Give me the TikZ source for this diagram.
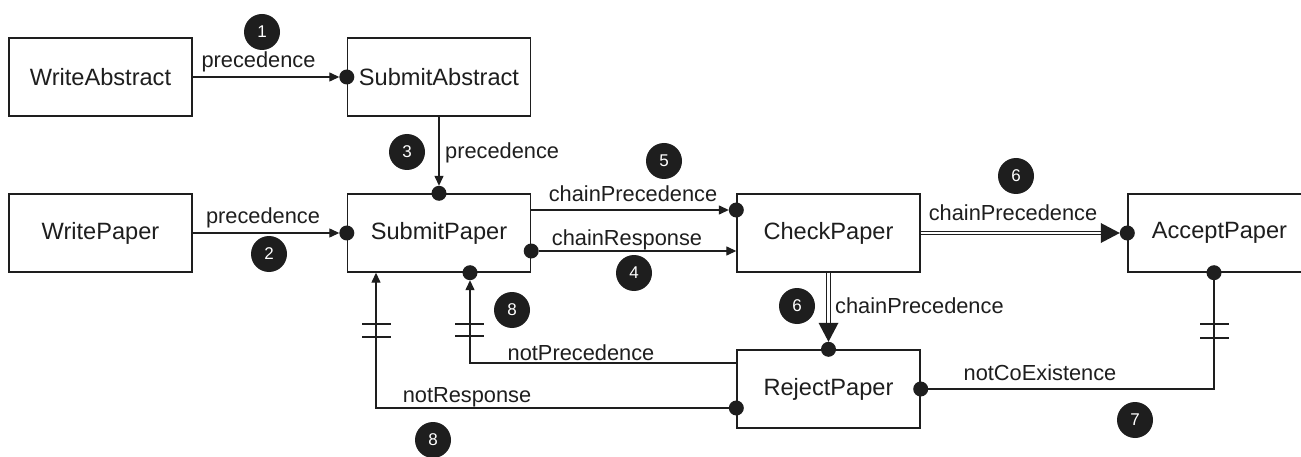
\documentclass[tikz,border=0pt]{standalone}
\usepackage{fontspec}
\setmainfont{Liberation Sans}
\usetikzlibrary{arrows.meta,calc}
\definecolor{ink}{HTML}{1E1E1E}
\begin{document}
\begin{tikzpicture}[x=1pt,y=-1pt,
  box/.style={draw=ink,line width=1.4pt,minimum width=183pt,minimum height=78pt,inner sep=0pt,font=\fontsize{23.6}{28}\selectfont,text=ink},
  lbl/.style={inner sep=0pt,font=\fontsize{21.8}{26}\selectfont,text=ink},
  badge/.style={circle,fill=ink,minimum size=36pt,inner sep=0pt,text=white,font=\fontsize{17}{20}\selectfont},
  edge/.style={draw=ink,line width=1.3pt},
  arr/.style={edge,-{Triangle[length=10pt,width=9pt]}},
  dbl/.style={draw=ink,double=white,double distance=2.3pt,line width=1.2pt},
  bar/.style={draw=ink,line width=1.1pt}]
\clip (0,0) rectangle (1301,457);
\fill[white] (0,0) rectangle (1301,457);

% boxes
\node[box] (wa) at (100.5,77) {WriteAbstract};
\node[box] (sa) at (439,77) {SubmitAbstract};
\node[box] (wp) at (100.5,233) {WritePaper};
\node[box] (sp) at (439,233) {SubmitPaper};
\node[box] (cp) at (828.5,233) {CheckPaper};
\node[box] (ap) at (1219.5,233) {AcceptPaper};
\node[box] (rp) at (828.5,389) {RejectPaper};

% precedence WriteAbstract -> SubmitAbstract
\draw[arr] (wa.east) -- ([xshift=-7.5pt]sa.west);
\fill[ink] (sa.west) circle (7.5pt);
% precedence SubmitAbstract -> SubmitPaper
\draw[arr] (sa.south) -- ([yshift=7.5pt]sp.north);
\fill[ink] (sp.north) circle (7.5pt);
% precedence WritePaper -> SubmitPaper
\draw[arr] (wp.east) -- ([xshift=-7.5pt]sp.west);
\fill[ink] (sp.west) circle (7.5pt);
% chainPrecedence SubmitPaper -> CheckPaper
\draw[arr] ([yshift=23pt]sp.east) -- ([xshift=-7.5pt,yshift=23pt]cp.west);
\fill[ink] ([yshift=23pt]cp.west) circle (7.5pt);
% chainResponse SubmitPaper -> CheckPaper
\fill[ink] ([yshift=-18pt]sp.east) circle (7.5pt);
\draw[arr] ([xshift=7.5pt,yshift=-18pt]sp.east) -- ([yshift=-18pt]cp.west);
% chainPrecedence CheckPaper -> AcceptPaper (double)
\draw[dbl] (cp.east) -- ([xshift=-25pt]ap.west);
\fill[ink] ([xshift=-7.5pt]ap.west) -- ++(-19,-10) -- ++(0,20) -- cycle;
\fill[ink] (ap.west) circle (7.5pt);
% chainPrecedence CheckPaper -> RejectPaper (double)
\draw[dbl] (cp.south) -- ([yshift=25pt]rp.north);
\fill[ink] ([yshift=7.5pt]rp.north) -- ++(-10,-19) -- ++(20,0) -- cycle;
\fill[ink] (rp.north) circle (7.5pt);
% notPrecedence RejectPaper -> SubmitPaper
\draw[arr] ([yshift=26pt]rp.west) -| ([xshift=31pt,yshift=-7.5pt]sp.south);
\fill[ink] ([xshift=31pt]sp.south) circle (7.5pt);
% notResponse RejectPaper -> SubmitPaper
\fill[ink] ([yshift=-19pt]rp.west) circle (7.5pt);
\draw[arr] ([xshift=-7.5pt,yshift=-19pt]rp.west) -| ([xshift=-63pt]sp.south);
% notCoExistence RejectPaper -- AcceptPaper
\fill[ink] (rp.east) circle (7.5pt);
\draw[edge] ([xshift=7.5pt]rp.east) -| ([xshift=-5.5pt,yshift=-7.5pt]ap.south);
\fill[ink] ([xshift=-5.5pt]ap.south) circle (7.5pt);

% negation bars
\draw[bar] (362,324) -- (391,324);
\draw[bar] (362,337) -- (391,337);
\draw[bar] (455,324) -- (484,324);
\draw[bar] (455,336) -- (484,336);
\draw[bar] (1200,324) -- (1229,324);
\draw[bar] (1200,338) -- (1229,338);

% labels
\node[lbl] (l1) at (258.5,62) {precedence};
\node[lbl] (l2) at (263,218) {precedence};
\node[lbl,anchor=west] (l3) at (445,153) {precedence};
\node[lbl] (l5) at (633,194) {chainPrecedence};
\node[lbl] (l4) at (627,240) {chainResponse};
\node[lbl] (l6) at (1013,213) {chainPrecedence};
\node[lbl,anchor=west] (l6b) at (835,306) {chainPrecedence};
\node[lbl] (l8a) at (581,353) {notPrecedence};
\node[lbl] (l8b) at (467,397) {notResponse};
\node[lbl] (l7) at (1040,373) {notCoExistence};

% badges
\node[badge] (b1) at (262,32) {1};
\node[badge] (b2) at (269,254) {2};
\node[badge] (b3) at (407,152) {3};
\node[badge] (b4) at (634,273) {4};
\node[badge] (b5) at (664,161) {5};
\node[badge] (b6a) at (1016,176) {6};
\node[badge] (b6b) at (797,306) {6};
\node[badge] (b7) at (1135,420) {7};
\node[badge] (b8a) at (512,310) {8};
\node[badge] (b8b) at (433,440) {8};
\end{tikzpicture}
\end{document}
